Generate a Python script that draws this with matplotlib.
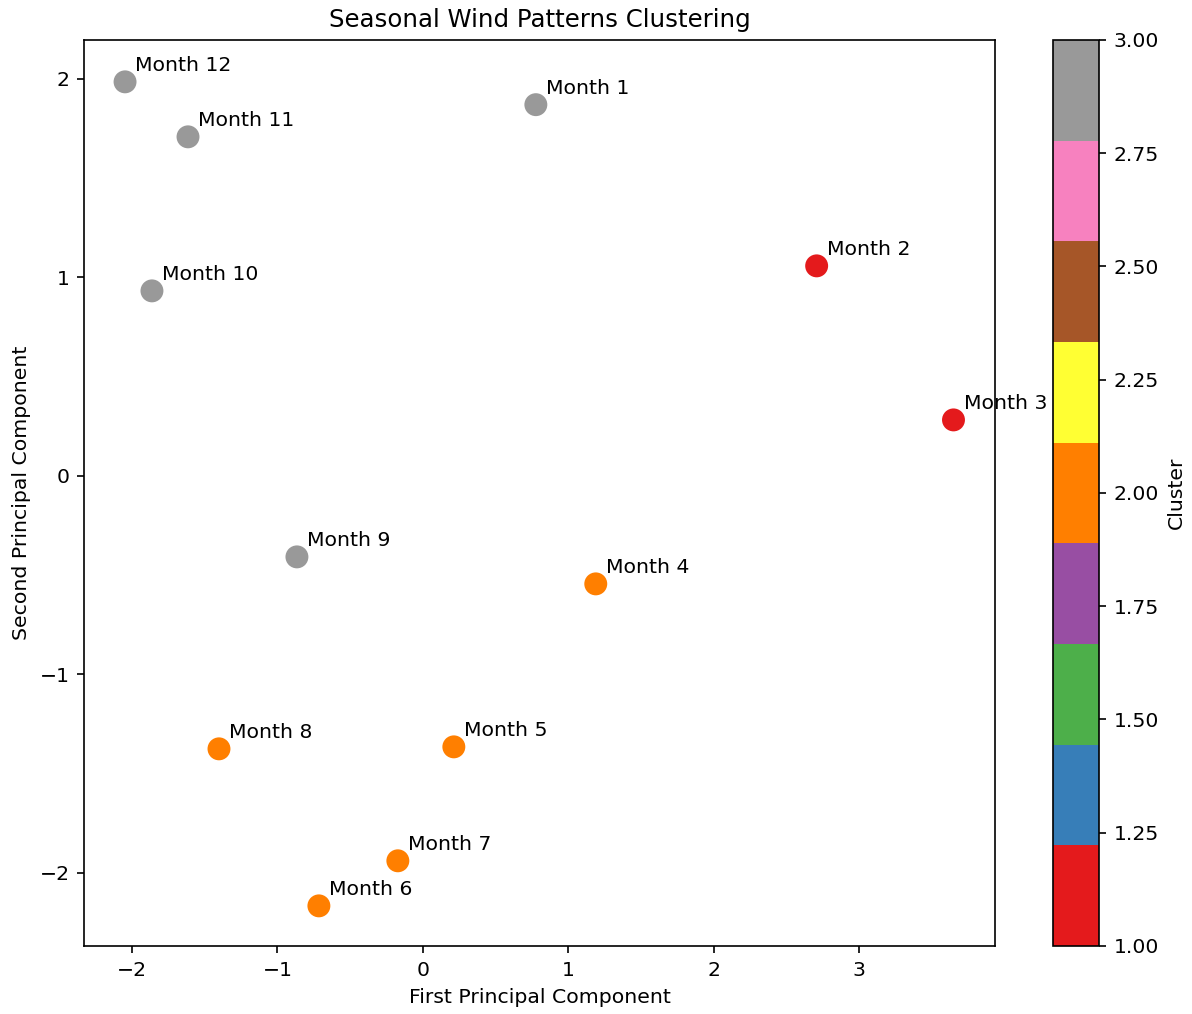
import matplotlib
matplotlib.use('Agg')
import matplotlib.pyplot as plt

# PCA coordinates per month and their cluster ids
months = ['Month 1', 'Month 2', 'Month 3', 'Month 4', 'Month 5', 'Month 6',
          'Month 7', 'Month 8', 'Month 9', 'Month 10', 'Month 11', 'Month 12']
pc1 = [0.777, 2.708, 3.649, 1.189, 0.213, -0.715,
       -0.172, -1.402, -0.866, -1.863, -1.615, -2.048]
pc2 = [1.870, 1.058, 0.282, -0.544, -1.365, -2.166,
       -1.939, -1.375, -0.408, 0.932, 1.708, 1.985]
clusters = [3, 1, 1, 2, 2, 2, 2, 2, 3, 3, 3, 3]

plt.rcParams['font.size'] = 9.75

fig = plt.figure(figsize=(1192 / 150, 1014 / 150), dpi=150)
ax = fig.add_axes([0.0705, 0.0671, 0.7643, 0.8935])
cax = fig.add_axes([0.8834, 0.0671, 0.0386, 0.8935])

sc = ax.scatter(pc1, pc2, c=clusters, cmap='Set1', s=100)

# Label each point with its month
for i, label in enumerate(months):
    ax.annotate(label, (pc1[i], pc2[i]), xytext=(5, 5), textcoords='offset points')

ax.set_xlim(-2.33, 3.935)
ax.set_ylim(-2.368, 2.196)
ax.set_title('Seasonal Wind Patterns Clustering', fontsize=11.7)
ax.set_xlabel('First Principal Component')
ax.set_ylabel('Second Principal Component')

cbar = fig.colorbar(sc, cax=cax)
cbar.set_label('Cluster')

fig.savefig('out.png', dpi=150)
